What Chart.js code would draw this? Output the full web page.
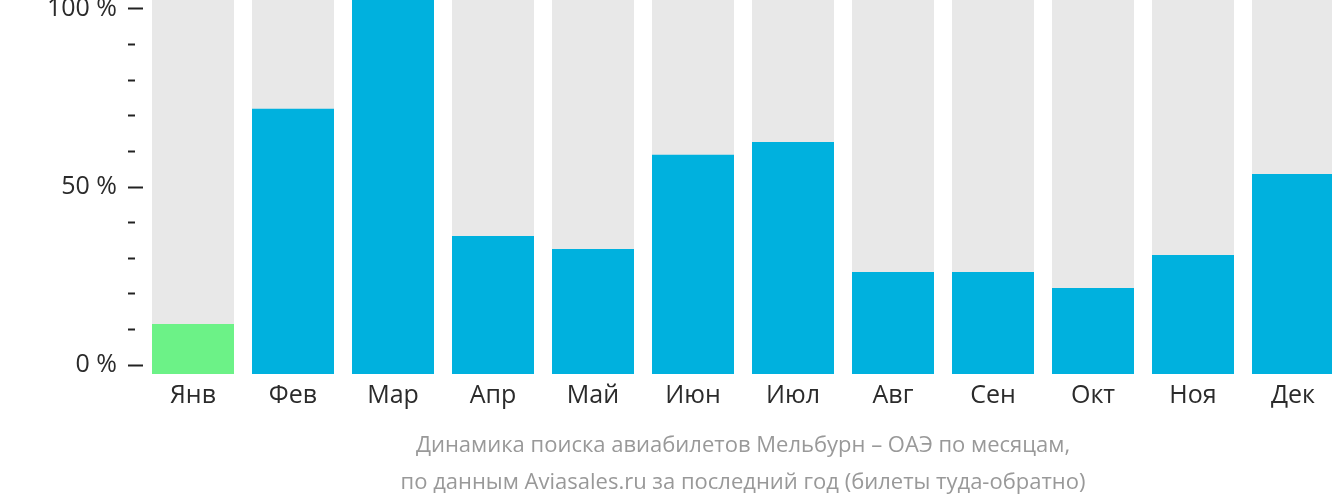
<!DOCTYPE html>
<html>
<head>
<meta charset="utf-8">
<script src="https://cdn.jsdelivr.net/npm/chart.js@4"></script>
<style>
  html, body { margin: 0; padding: 0; overflow: hidden; background: #fff; }
  canvas { display: block; }
</style>
</head>
<body>
<canvas id="c" width="1344" height="502" style="width:1344px;height:502px"></canvas>
<script>
const categories = ['Янв', 'Фев', 'Мар', 'Апр', 'Май', 'Июн', 'Июл', 'Авг', 'Сен', 'Окт', 'Ноя', 'Дек'];
const searchShare = [13.4, 70.9, 100, 36.9, 33.4, 58.6, 62.0, 27.3, 27.3, 23.0, 31.8, 53.5];
const fullTrack = [100, 100, 100, 100, 100, 100, 100, 100, 100, 100, 100, 100];
const highlightMonth = 'Янв';
const yTickValues = [0, 10, 20, 30, 40, 50, 60, 70, 80, 90, 100];
const yLabeledTicks = [0, 50, 100];
const titleLines = [
  'Динамика поиска авиабилетов Мельбурн – ОАЭ по месяцам,',
  'по данным Aviasales.ru за последний год (билеты туда-обратно)'
];

const FONT = '"Open Sans", "Noto Sans", sans-serif';
const barColors = categories.map(c => c === highlightMonth ? '#6cf287' : '#00b1de');

new Chart(document.getElementById('c'), {
  type: 'bar',
  data: {
    labels: categories,
    datasets: [
      {
        data: searchShare,
        backgroundColor: barColors,
        yAxisID: 'y',
        grouped: false,
        order: 0,
        categoryPercentage: 1,
        barPercentage: 0.82,
        borderWidth: 0
      },
      {
        data: fullTrack,
        backgroundColor: '#e8e8e8',
        yAxisID: 'y',
        grouped: false,
        order: 1,
        categoryPercentage: 1,
        barPercentage: 0.82,
        borderWidth: 0
      }
    ]
  },
  options: {
    responsive: false,
    animation: false,
    layout: { padding: { left: 0, right: 1, top: 0, bottom: 0 } },
    plugins: {
      legend: { display: false },
      tooltip: { enabled: false },
      title: { display: false }
    },
    scales: {
      x: {
        grid: { display: false, drawTicks: false },
        border: { display: false },
        ticks: {
          color: '#2b2b2b',
          font: { family: FONT, size: 25 },
          padding: 7,
          maxRotation: 0,
          autoSkip: false
        },
        title: {
          display: true,
          text: titleLines,
          color: '#999',
          font: { family: FONT, size: 22, lineHeight: 1.66 },
          padding: { top: 6, bottom: 1 }
        },
        afterFit(scale) { scale.height = 128; scale.paddingLeft = 0; scale.paddingRight = 0; }
      },
      y: {
        display: false,
        min: 0,
        max: 100
      },
      yAxis: {
        position: 'left',
        min: -2.528,
        max: 102.528,
        border: { display: false },
        grid: {
          drawOnChartArea: false,
          drawTicks: true,
          tickLength: 15,
          tickWidth: 2,
          tickColor: '#222',
          tickBorderDash: ctx => (yLabeledTicks.includes(ctx.tick && ctx.tick.value) ? [] : [7, 40])
        },
        ticks: {
          color: '#2b2b2b',
          font: { family: FONT, size: 25 },
          padding: 11,
          callback: v => (yLabeledTicks.includes(v) ? v + ' %' : '')
        },
        afterBuildTicks(scale) {
          scale.ticks = yTickValues.map(v => ({ value: v }));
        },
        afterFit(scale) { scale.width = 143; scale.paddingTop = 0; scale.paddingBottom = 0; }
      }
    }
  }
});
</script>
</body>
</html>
